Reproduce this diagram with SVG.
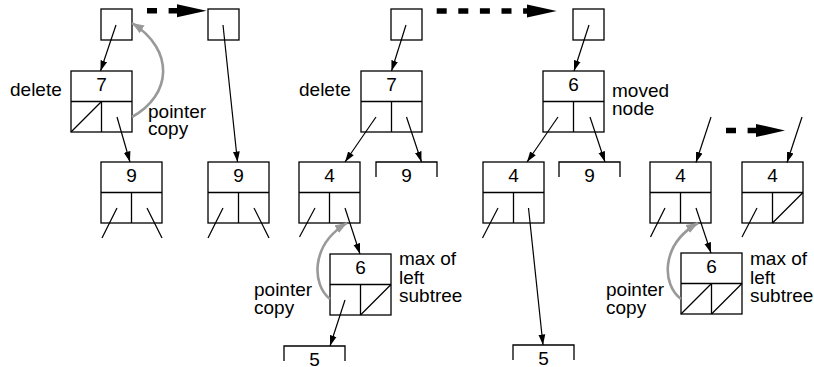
<svg xmlns="http://www.w3.org/2000/svg" xmlns:xlink="http://www.w3.org/1999/xlink" width="814" height="367" viewBox="0 0 814 367">
  <style>
    .box { fill: none; stroke: #000; stroke-width: 1.3; }
    .ln { fill: none; stroke: #000; stroke-width: 1.2; }
    .ptr { fill: none; stroke: #000; stroke-width: 1.2; marker-end: url(#ah); }
    .copy { fill: none; stroke: #999; stroke-width: 2.6; marker-end: url(#gh); }
    .dash { fill: none; stroke: #000; stroke-width: 5.5; stroke-dasharray: 10 11.6; }
    .head { fill: #000; }
    .lbl { font-family: "Liberation Sans", Arial, Helvetica, sans-serif; font-size: 19px; fill: #000; }
    .num { text-anchor: middle; }
  </style>
  <defs>
    <marker id="ah" markerUnits="userSpaceOnUse" markerWidth="11" markerHeight="8" refX="10.5" refY="4" orient="auto">
      <path d="M0,0.6 L10.5,4 L0,7.4 z" fill="#000"/>
    </marker>
    <marker id="gh" markerUnits="userSpaceOnUse" markerWidth="13" markerHeight="10" refX="12" refY="5" orient="auto">
      <path d="M0,0.5 L12,5 L0,9.5 z" fill="#999"/>
    </marker>
    <!-- tree node: key row on top, left/right pointer cells below -->
    <g id="frame">
      <rect class="box" x="0" y="0" width="61" height="61"/>
      <line class="box" x1="0" y1="30.5" x2="61" y2="30.5"/>
      <line class="box" x1="30.5" y1="30.5" x2="30.5" y2="61"/>
    </g>
    <!-- null pointer slash for the left / right cell -->
    <line id="nullL" class="ln" x1="0" y1="61" x2="30.5" y2="30.5"/>
    <line id="nullR" class="ln" x1="30.5" y1="61" x2="61" y2="30.5"/>
    <!-- open-bottom stub for a subtree shown only by its key -->
    <path id="stub" class="box" d="M0,15 V0 H61 V15"/>
    <rect id="root" class="box" x="0" y="0" width="31" height="31"/>
  </defs>

  <!-- ===== step 1: node 7 has one child ===== -->
  <g id="s1-root-before" transform="translate(101,9)"><use xlink:href="#root"/></g>
  <g id="s1-node7" transform="translate(71,71)">
    <use xlink:href="#frame"/><use xlink:href="#nullL"/>
    <text class="lbl num" x="30.5" y="19.5">7</text>
  </g>
  <g id="s1-node9a" transform="translate(101,162)">
    <use xlink:href="#frame"/>
    <text class="lbl num" x="30.5" y="19.5">9</text>
  </g>
  <g id="s1-root-after" transform="translate(208,9)"><use xlink:href="#root"/></g>
  <g id="s1-node9b" transform="translate(208,162)">
    <use xlink:href="#frame"/>
    <text class="lbl num" x="30.5" y="19.5">9</text>
  </g>
  <text class="lbl" x="10" y="96">delete</text>
  <text class="lbl" x="148" y="118">pointer</text>
  <text class="lbl" x="148" y="135">copy</text>

  <!-- ===== step 2: node 7 has two children ===== -->
  <g id="s2-root-before" transform="translate(391,9)"><use xlink:href="#root"/></g>
  <g id="s2-node7" transform="translate(361,71)">
    <use xlink:href="#frame"/>
    <text class="lbl num" x="30.5" y="19.5">7</text>
  </g>
  <g id="s2-node4" transform="translate(299,162)">
    <use xlink:href="#frame"/>
    <text class="lbl num" x="30.5" y="19.5">4</text>
  </g>
  <g id="s2-stub9" transform="translate(376,162)">
    <use xlink:href="#stub"/>
    <text class="lbl num" x="30.5" y="19.5">9</text>
  </g>
  <g id="s2-node6" transform="translate(330,254)">
    <use xlink:href="#frame"/><use xlink:href="#nullR"/>
    <text class="lbl num" x="30.5" y="19.5">6</text>
  </g>
  <g id="s2-stub5" transform="translate(284,346)">
    <use xlink:href="#stub"/>
    <text class="lbl num" x="30.5" y="19.5">5</text>
  </g>
  <text class="lbl" x="299" y="96">delete</text>
  <text class="lbl" x="399" y="265">max of</text>
  <text class="lbl" x="399" y="284">left</text>
  <text class="lbl" x="399" y="302">subtree</text>
  <text class="lbl" x="254" y="296">pointer</text>
  <text class="lbl" x="254" y="314">copy</text>

  <!-- ===== step 2 result ===== -->
  <g id="s3-root" transform="translate(573,9)"><use xlink:href="#root"/></g>
  <g id="s3-node6" transform="translate(543,71)">
    <use xlink:href="#frame"/>
    <text class="lbl num" x="30.5" y="19.5">6</text>
  </g>
  <g id="s3-node4" transform="translate(483,162)">
    <use xlink:href="#frame"/>
    <text class="lbl num" x="30.5" y="19.5">4</text>
  </g>
  <g id="s3-stub9" transform="translate(559,162)">
    <use xlink:href="#stub"/>
    <text class="lbl num" x="30.5" y="19.5">9</text>
  </g>
  <g id="s3-stub5" transform="translate(513,345)">
    <use xlink:href="#stub"/>
    <text class="lbl num" x="30.5" y="19.5">5</text>
  </g>
  <text class="lbl" x="612" y="97">moved</text>
  <text class="lbl" x="612" y="115">node</text>

  <!-- ===== step 3: max node with no left child ===== -->
  <g id="s4-node4-before" transform="translate(650,162)">
    <use xlink:href="#frame"/>
    <text class="lbl num" x="30.5" y="19.5">4</text>
  </g>
  <g id="s4-node6" transform="translate(681,253)">
    <use xlink:href="#frame"/><use xlink:href="#nullL"/><use xlink:href="#nullR"/>
    <text class="lbl num" x="30.5" y="19.5">6</text>
  </g>
  <g id="s4-node4-after" transform="translate(742,162)">
    <use xlink:href="#frame"/><use xlink:href="#nullR"/>
    <text class="lbl num" x="30.5" y="19.5">4</text>
  </g>
  <text class="lbl" x="750" y="265">max of</text>
  <text class="lbl" x="750" y="284">left</text>
  <text class="lbl" x="750" y="302">subtree</text>
  <text class="lbl" x="606" y="296">pointer</text>
  <text class="lbl" x="606" y="314">copy</text>

  <g id="connectors">
    <!-- step 1 -->
    <line class="ptr" x1="116" y1="25" x2="100.5" y2="71"/>
    <line class="ptr" x1="117" y1="117" x2="130" y2="162"/>
    <line class="ptr" x1="223" y1="25" x2="237.5" y2="162"/>
    <line class="ln" x1="117" y1="208" x2="102" y2="238"/>
    <line class="ln" x1="147" y1="208" x2="162" y2="238"/>
    <line class="ln" x1="223" y1="208" x2="208" y2="238"/>
    <line class="ln" x1="254" y1="208" x2="269" y2="238"/>
    <path class="copy" d="M132,117 C172,95 175,50 132,23"/>
    <line class="dash" x1="147" y1="10.8" x2="180" y2="10.8"/>
    <polygon class="head" points="177,4.3 206.5,10.8 177,17.3"/>

    <!-- step 2 -->
    <line class="ptr" x1="406" y1="25" x2="391.5" y2="71"/>
    <line class="ptr" x1="376" y1="117" x2="345" y2="162"/>
    <line class="ptr" x1="406.5" y1="117" x2="421.5" y2="162"/>
    <line class="ln" x1="315" y1="208" x2="299.5" y2="237"/>
    <line class="ptr" x1="345" y1="208" x2="360" y2="254"/>
    <line class="ptr" x1="345" y1="300" x2="330" y2="346"/>
    <path class="copy" d="M330,299 C312,285 310,245 347,223"/>
    <line class="dash" x1="436.7" y1="11" x2="530" y2="11"/>
    <polygon class="head" points="527,4.5 556.7,11 527,17.5"/>

    <!-- step 2 result -->
    <line class="ptr" x1="589" y1="25" x2="574" y2="71"/>
    <line class="ptr" x1="558" y1="117" x2="527" y2="162"/>
    <line class="ptr" x1="590" y1="117" x2="605" y2="162"/>
    <line class="ln" x1="498" y1="208" x2="482.5" y2="238"/>
    <line class="ptr" x1="528.5" y1="208" x2="543" y2="345"/>

    <!-- step 3 -->
    <line class="ptr" x1="711" y1="117" x2="696" y2="162.5"/>
    <line class="ptr" x1="802" y1="117" x2="787" y2="162.5"/>
    <line class="ln" x1="665" y1="208" x2="650.5" y2="237"/>
    <line class="ptr" x1="696" y1="208" x2="711" y2="253"/>
    <line class="ln" x1="757" y1="208" x2="742" y2="237"/>
    <path class="copy" d="M681,299 C662,285 660,245 698,223"/>
    <line class="dash" x1="726" y1="130.5" x2="760" y2="130.5"/>
    <polygon class="head" points="756,124 785,130.5 756,137"/>
  </g>
</svg>
